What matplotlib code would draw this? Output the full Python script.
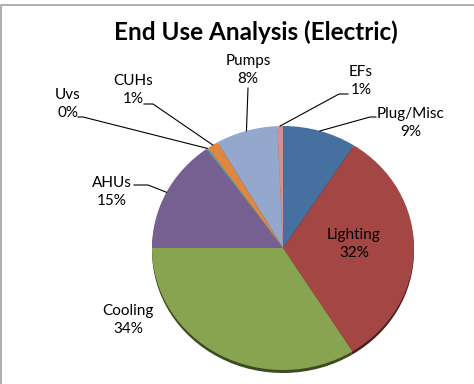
import matplotlib
matplotlib.use("Agg")
import matplotlib.pyplot as plt
import numpy as np
from matplotlib.colors import to_rgb

# data, clockwise from 12 o'clock
labels = ["Plug/Misc", "Lighting", "Cooling", "AHUs", "Uvs", "CUHs", "Pumps", "EFs"]
values = [9.1, 32.0, 33.9, 15.1, 0.2, 1.4, 7.6, 0.7]
colors = ["#4670A0", "#A34644", "#88A450", "#766092",
          "#4BACC6", "#DE8741", "#93A8CC", "#D29191"]

# label layout in pixels: text centre, leader start, elbow x (None = inside)
label_layout = {
    "Plug/Misc": (411, 123, 376, 117, 370),
    "Lighting": (354, 244, None, None, None),
    "Cooling": (128, 320, None, None, None),
    "AHUs": (112, 192, 134, 185, 148),
    "Uvs": (68, 104, 78, 117, 83),
    "CUHs": (133, 90, 144, 104, 153),
    "Pumps": (248, 70, 248, 88, 248),
    "EFs": (361, 81, 348, 94, 339),
}

W, H = 474, 384
cx, cy, rx, ry = 283, 248, 131, 122

plt.rcParams["font.family"] = ["Lato", "DejaVu Sans"]
fig = plt.figure(figsize=(W / 100, H / 100), dpi=100)


def pie_axes(dy=0):
    ax = fig.add_axes([(cx - rx) / W, 1 - (cy + ry + dy) / H, 2 * rx / W, 2 * ry / H])
    return ax


# shadow underneath
ax_sh = pie_axes(dy=3)
dark = [tuple(c * 0.45 for c in to_rgb(col)) for col in colors]
ax_sh.pie(values, colors=dark, startangle=90, counterclock=False, radius=1,
          wedgeprops=dict(linewidth=0))
ax_sh.set_xlim(-1, 1)
ax_sh.set_ylim(-1, 1)
ax_sh.set_aspect("auto")

ax = pie_axes()
ax.pie(values, colors=colors, startangle=90, counterclock=False, radius=1,
       wedgeprops=dict(linewidth=0))
ax.set_xlim(-1, 1)
ax.set_ylim(-1, 1)
ax.set_aspect("auto")

# overlay in pixel coordinates for labels, leaders and frame
ov = fig.add_axes([0, 0, 1, 1], zorder=5)
ov.set_xlim(0, W)
ov.set_ylim(H, 0)
ov.axis("off")
ov.patch.set_alpha(0)

ov.plot([1, 1, W], [H, 5, 5], color="#A0A0A0", lw=1.2)

ov.text(256, 32, "End Use Analysis (Electric)", ha="center", va="center",
        fontsize=17.5, fontweight="bold", color="black")

total = sum(values)
cum = np.cumsum([0] + values)
for i, name in enumerate(labels):
    mid = (cum[i] + cum[i + 1]) / 2 / total * 2 * np.pi
    anchor_x = cx + rx * np.sin(mid)
    anchor_y = cy - ry * np.cos(mid)
    tx, ty, sx, sy, ex = label_layout[name]
    pct = round(values[i] / total * 100)
    ov.text(tx, ty, f"{name}\n{pct}%", ha="center", va="center",
            fontsize=11, color="black", linespacing=1.3)
    if sx is not None:
        ov.plot([sx, ex, anchor_x], [sy, sy, anchor_y], color="black", lw=0.8)

fig.savefig("out.png", dpi=100)
